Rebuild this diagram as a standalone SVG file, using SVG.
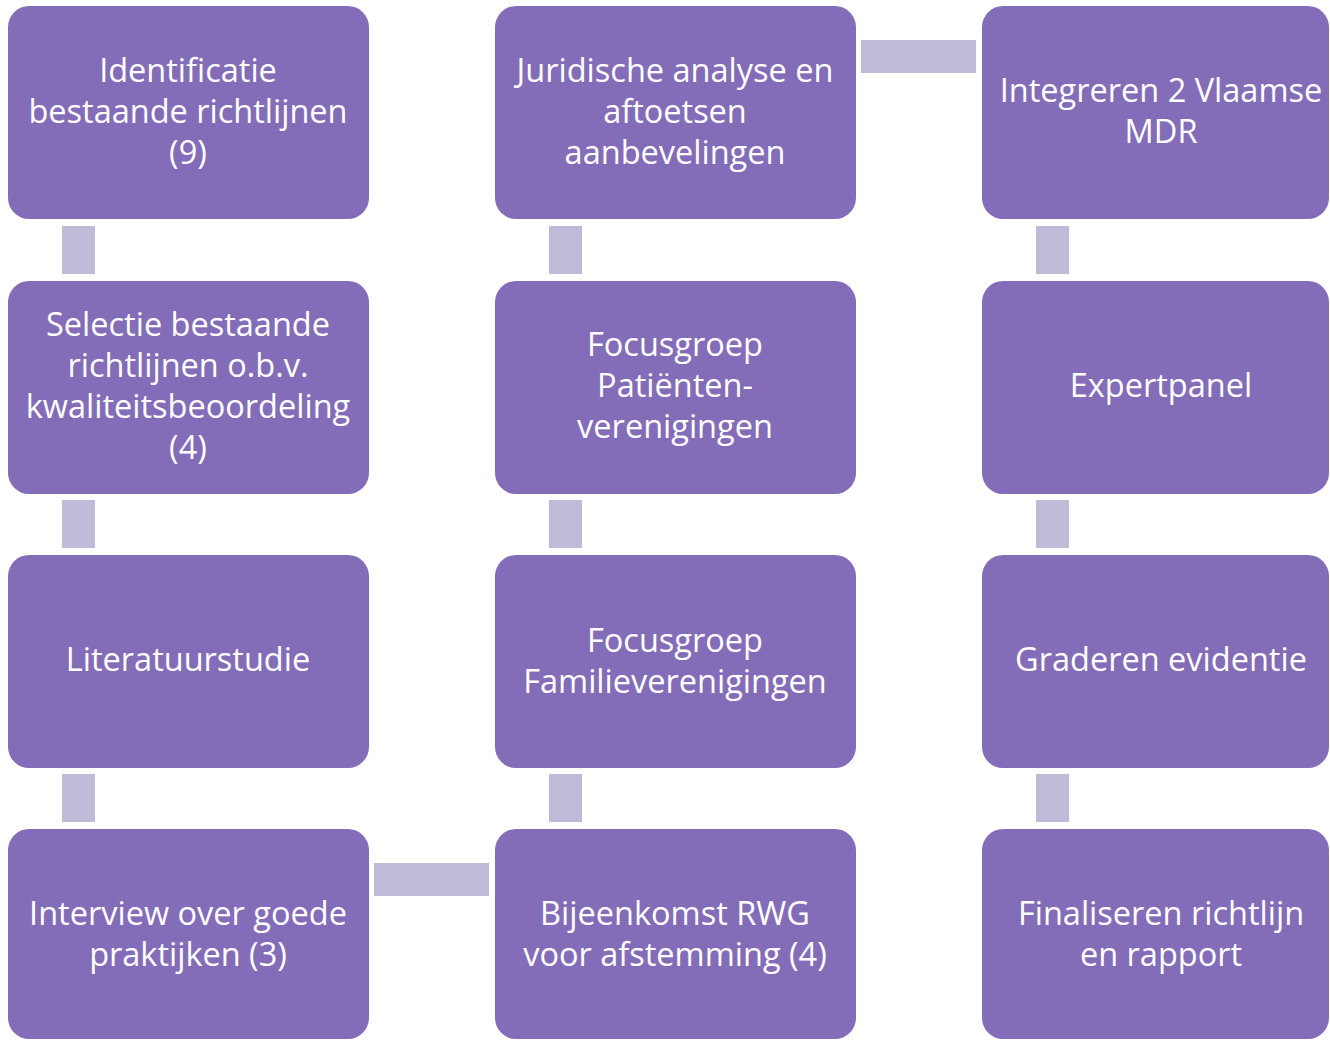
<svg xmlns="http://www.w3.org/2000/svg" width="1330" height="1041" viewBox="0 0 1330 1041">
<style>
.box{fill:#846DB8}
.con{fill:#C0BAD9}
text{font-family:"Open Sans","Noto Sans","DejaVu Sans",sans-serif;font-size:32.5px;fill:#FFFFFF;text-anchor:middle}
</style>
<rect x="0" y="0" width="1330" height="1041" fill="#FFFFFF"/>
<g id="connectors">
<rect class="con" x="62" y="226" width="33" height="48"/>
<rect class="con" x="62" y="500" width="33" height="48"/>
<rect class="con" x="62" y="774" width="33" height="48"/>
<rect class="con" x="549" y="226" width="33" height="48"/>
<rect class="con" x="549" y="500" width="33" height="48"/>
<rect class="con" x="549" y="774" width="33" height="48"/>
<rect class="con" x="1036" y="226" width="33" height="48"/>
<rect class="con" x="1036" y="500" width="33" height="48"/>
<rect class="con" x="1036" y="774" width="33" height="48"/>
<rect class="con" x="861" y="40" width="115" height="33"/>
<rect class="con" x="374" y="863" width="115" height="33"/>
</g>
<g id="n1"><rect class="box" x="8" y="6" width="361" height="213" rx="21"/>
<text x="188" y="82">Identificatie</text><text x="188" y="123">bestaande richtlijnen</text><text x="188" y="164">(9)</text></g>
<g id="n2"><rect class="box" x="8" y="281" width="361" height="213" rx="21"/>
<text x="188" y="336">Selectie bestaande</text><text x="188" y="377">richtlijnen o.b.v.</text><text x="188" y="418">kwaliteitsbeoordeling</text><text x="188" y="459">(4)</text></g>
<g id="n3"><rect class="box" x="8" y="555" width="361" height="213" rx="21"/>
<text x="188" y="671">Literatuurstudie</text></g>
<g id="n4"><rect class="box" x="8" y="829" width="361" height="210" rx="21"/>
<text x="188" y="925">Interview over goede</text><text x="188" y="966">praktijken (3)</text></g>
<g id="n5"><rect class="box" x="495" y="829" width="361" height="210" rx="21"/>
<text x="675" y="925">Bijeenkomst RWG</text><text x="675" y="966">voor afstemming (4)</text></g>
<g id="n6"><rect class="box" x="495" y="555" width="361" height="213" rx="21"/>
<text x="675" y="652">Focusgroep</text><text x="675" y="693">Familieverenigingen</text></g>
<g id="n7"><rect class="box" x="495" y="281" width="361" height="213" rx="21"/>
<text x="675" y="356">Focusgroep</text><text x="675" y="397">Patiënten-</text><text x="675" y="438">verenigingen</text></g>
<g id="n8"><rect class="box" x="495" y="6" width="361" height="213" rx="21"/>
<text x="675" y="82">Juridische analyse en</text><text x="675" y="123">aftoetsen</text><text x="675" y="164">aanbevelingen</text></g>
<g id="n9"><rect class="box" x="982" y="6" width="347" height="213" rx="21"/>
<text x="1161" y="102">Integreren 2 Vlaamse</text><text x="1161" y="143">MDR</text></g>
<g id="n10"><rect class="box" x="982" y="281" width="347" height="213" rx="21"/>
<text x="1161" y="397">Expertpanel</text></g>
<g id="n11"><rect class="box" x="982" y="555" width="347" height="213" rx="21"/>
<text x="1161" y="671">Graderen evidentie</text></g>
<g id="n12"><rect class="box" x="982" y="829" width="347" height="210" rx="21"/>
<text x="1161" y="925">Finaliseren richtlijn</text><text x="1161" y="966">en rapport</text></g>
</svg>
